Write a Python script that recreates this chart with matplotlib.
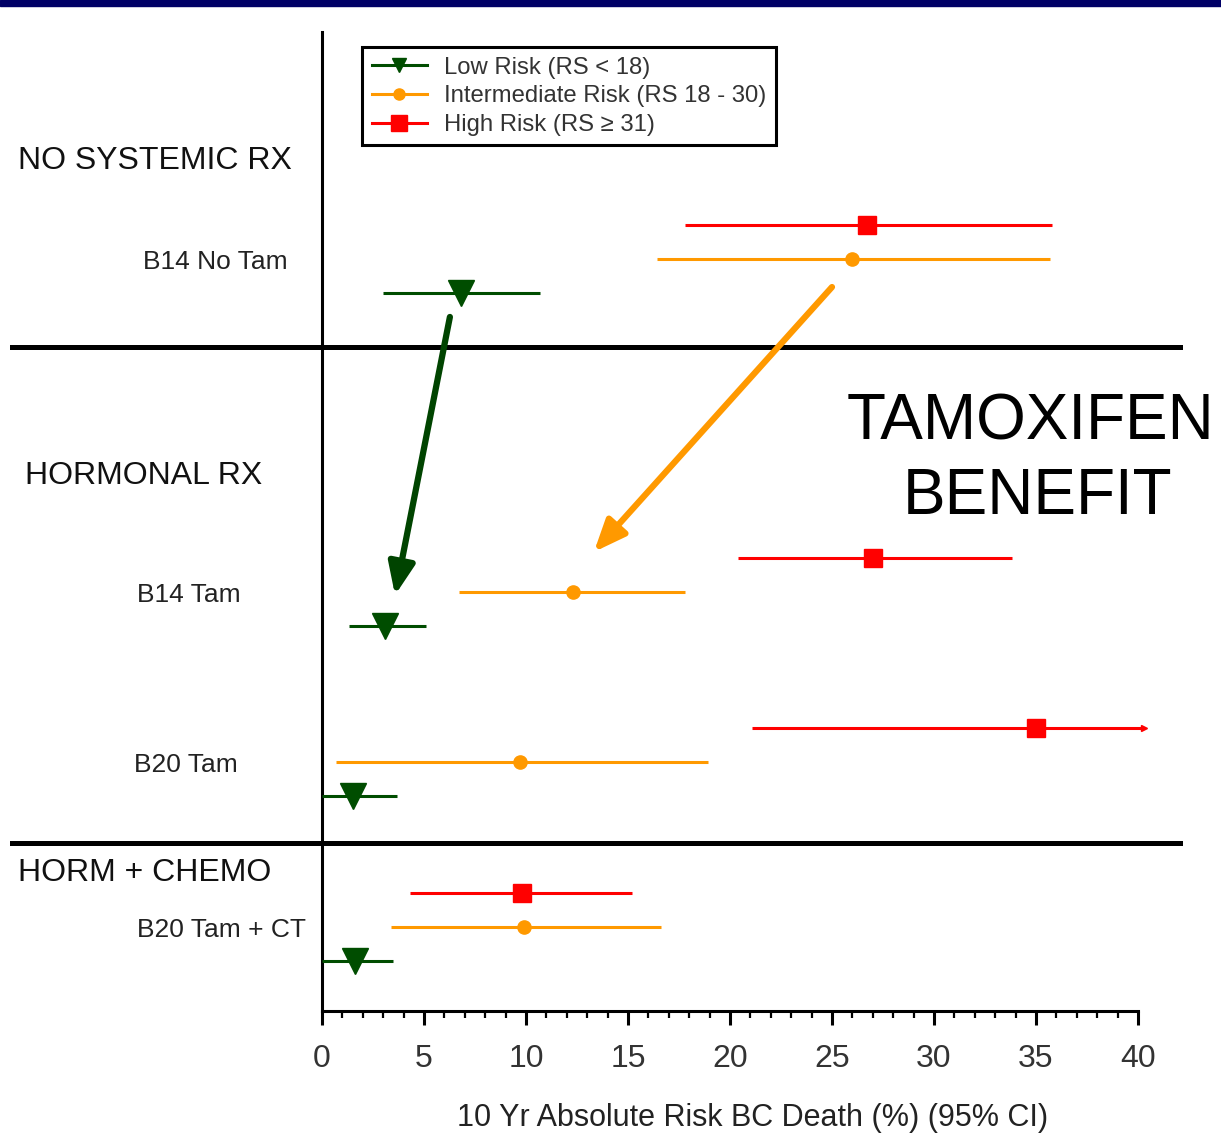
import matplotlib
matplotlib.use("Agg")
import matplotlib.pyplot as plt
from matplotlib.lines import Line2D
from matplotlib.patches import Rectangle
from matplotlib.ticker import MultipleLocator
from matplotlib.transforms import blended_transform_factory

plt.rcParams['font.family'] = ['Liberation Sans', 'DejaVu Sans']

# ---- data: 10-year absolute risk of breast-cancer death (%), with 95% CI ----
groups = ["B14 No Tam", "B14 Tam", "B20 Tam", "B20 Tam + CT"]
sections = ["NO SYSTEMIC RX", "HORMONAL RX", "HORM + CHEMO"]

low_est = [6.8, 3.1, 1.5, 1.6]
low_lo = [3.0, 1.3, 0.0, 0.0]
low_hi = [10.7, 5.1, 3.7, 3.5]

int_est = [26.0, 12.3, 9.7, 9.9]
int_lo = [16.4, 6.7, 0.7, 3.4]
int_hi = [35.7, 17.8, 18.9, 16.6]

high_est = [26.7, 27.0, 35.0, 9.8]
high_lo = [17.8, 20.4, 21.1, 4.3]
high_hi = [35.8, 33.8, 40.3, 15.2]   # B20 Tam upper limit runs off the scale

series = [
    ("High Risk (RS \u2265 31)", high_est, high_lo, high_hi, "#FF0000", "s", 13.5, -1.0),
    ("Intermediate Risk (RS 18 - 30)", int_est, int_lo, int_hi, "#FF9900", "o", 9.5, 0.0),
    ("Low Risk (RS < 18)", low_est, low_lo, low_hi, "#004D00", "v", 19, 1.0),
]

xticks = [0, 5, 10, 15, 20, 25, 30, 35, 40]

# ---- layout ----
W, H = 1221, 1133
fig = plt.figure(figsize=(W / 100, H / 100), dpi=100)
ax = fig.add_axes([322 / W, 1 - 1011 / H, (1138 - 322) / W, (1011 - 32) / H])

group_y = [6.68, 16.47, 21.47, 26.32]
section_y = [3.79, 13.06, 24.74]
separator_y = [9.26, 23.85]

ax.set_xlim(0, 40)
ax.set_ylim(28.79, 0)

for label, est, lo, hi, col, mk, ms, off in series:
    ys = [g + off for g in group_y]
    xerr = [[e - l for e, l in zip(est, lo)], [h - e for e, h in zip(est, hi)]]
    ax.errorbar(est, ys, xerr=xerr, fmt=mk, color=col, ecolor=col, ms=ms,
                mec=col, mfc=col, elinewidth=2.2, capsize=0, clip_on=False, zorder=3)

# off-scale upper limit marked with an arrow tip
i_off = high_hi.index(max(high_hi))
ax.plot([high_hi[i_off]], [group_y[i_off] - 1.0], marker=">", color="#FF0000",
        ms=5, clip_on=False, zorder=3)

# tamoxifen-benefit arrows
arrow_style = "-|>,head_length=0.6,head_width=0.25"
ax.annotate("", xy=(3.58, 16.56), xytext=(6.27, 8.38),
            arrowprops=dict(arrowstyle=arrow_style, color="#004400", lw=4.5,
                            mutation_scale=32, shrinkA=0, shrinkB=0), zorder=4)
ax.annotate("", xy=(13.33, 15.29), xytext=(25.0, 7.5),
            arrowprops=dict(arrowstyle=arrow_style, color="#FF9900", lw=4.5,
                            mutation_scale=32, shrinkA=0, shrinkB=0), zorder=4)

# axes styling
for s in ["top", "right"]:
    ax.spines[s].set_visible(False)
ax.spines["left"].set_linewidth(2.2)
ax.spines["bottom"].set_linewidth(2.2)
ax.set_yticks([])
ax.set_xticks(xticks)
ax.xaxis.set_minor_locator(MultipleLocator(1))
ax.tick_params(axis="x", which="major", direction="out", length=10, width=2.2,
               labelsize=23, pad=14, labelcolor="#333333")
ax.tick_params(axis="x", which="minor", direction="out", length=5, width=1.6)
ax.set_xlabel("10 Yr Absolute Risk BC Death (%) (95% CI)", fontsize=22,
              color="#222222")
ax.xaxis.set_label_coords((753 - 322) / 816, -0.094)

# section separators spanning the full width
tr = blended_transform_factory(fig.transFigure, ax.transData)
for y in separator_y:
    ax.add_line(Line2D([12 / W, 1180 / W], [y, y], transform=tr, color="black",
                       lw=3.6, clip_on=False, zorder=2))

# section headers and group labels
section_x = [18 / W, 25 / W, 18 / W]
for name, x, y in zip(sections, section_x, section_y):
    ax.text(x, y, name, transform=tr, ha="left", va="center", fontsize=23,
            color="#111111")
group_x = [143 / W, 137 / W, 134 / W, 137 / W]
for name, x, y in zip(groups, group_x, group_y):
    ax.text(x, y + 0.08, name, transform=tr, ha="left", va="center", fontsize=19,
            color="#222222")

# benefit caption
fig.text(1030 / W, 1 - 423 / H, "TAMOXIFEN", ha="center", va="center", fontsize=46)
fig.text(1038 / W, 1 - 497 / H, "BENEFIT", ha="center", va="center", fontsize=46)

# legend
handles = [
    Line2D([], [], color="#004D00", marker="v", ms=10, lw=2.2),
    Line2D([], [], color="#FF9900", marker="o", ms=8, lw=2.2),
    Line2D([], [], color="#FF0000", marker="s", ms=11, lw=2.2),
]
labels = [series[2][0], series[1][0], series[0][0]]
leg = fig.legend(handles, labels, loc="upper left",
                 bbox_to_anchor=(362 / W, 1 - 47 / H), fontsize=17.2,
                 frameon=True, fancybox=False, edgecolor="black", framealpha=1,
                 borderpad=0.4, labelspacing=0.28, handlelength=2.3,
                 handletextpad=0.75, borderaxespad=0, labelcolor="#333333")
leg.get_frame().set_linewidth(2.2)

# title band across the top
fig.add_artist(Rectangle((0, 1 - 6 / H), 1, 6 / H, transform=fig.transFigure,
                         color="#000066", zorder=5))

fig.savefig("out.png", dpi=100)
